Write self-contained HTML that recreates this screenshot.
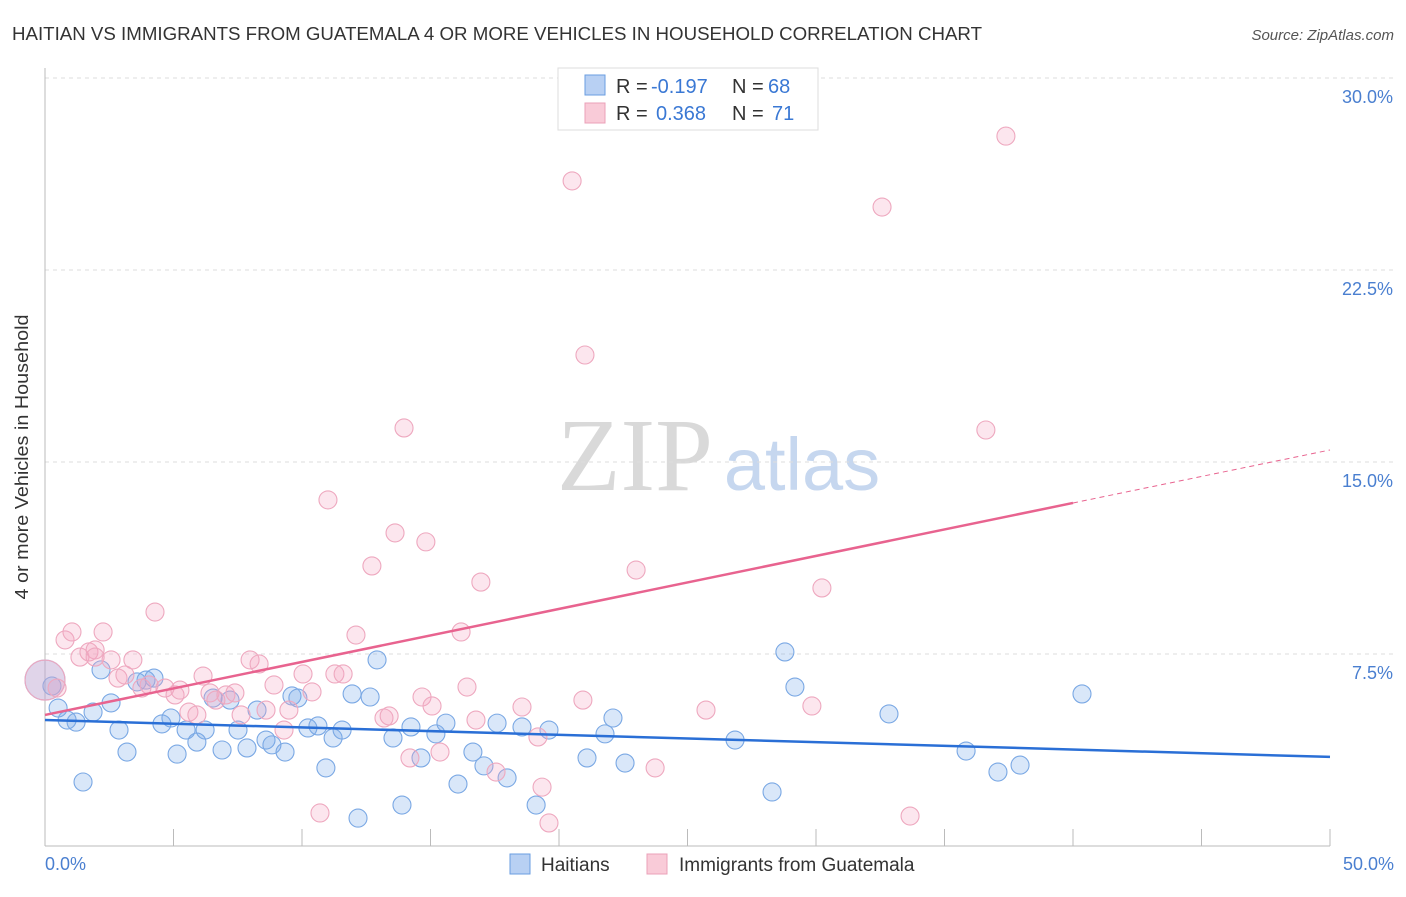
<!DOCTYPE html>
<html><head><meta charset="utf-8"><style>
body{margin:0;background:#fff;font-family:"Liberation Sans",sans-serif;}
svg text{font-family:"Liberation Sans",sans-serif;}
</style></head><body>
<svg id="chart" width="1406" height="892">
<text x="12" y="40" font-size="18" fill="#333" textLength="970" lengthAdjust="spacingAndGlyphs">HAITIAN VS IMMIGRANTS FROM GUATEMALA 4 OR MORE VEHICLES IN HOUSEHOLD CORRELATION CHART</text>
<text x="1394" y="40" font-size="15" fill="#555" font-style="italic" text-anchor="end">Source: ZipAtlas.com</text>
<text x="28" y="457" font-size="18" fill="#333" text-anchor="middle" textLength="285" lengthAdjust="spacingAndGlyphs" transform="rotate(-90 28 457)">4 or more Vehicles in Household</text>
<g><text x="635" y="490" font-size="104" fill="#d9d9d9" text-anchor="middle" style="font-family:'Liberation Serif',serif">ZIP</text><text x="802" y="490" font-size="74" fill="#c6d7ef" text-anchor="middle">atlas</text></g>
<g id="grid"></g><g id="axes"></g><g id="marks"></g>
<g>
<rect x="558" y="68" width="260" height="62" fill="#fff" stroke="#ddd"/>
<rect x="585" y="75" width="20" height="20" fill="#b8d0f3" stroke="#6a9ee0"/>
<rect x="585" y="103" width="20" height="20" fill="#f9cbd8" stroke="#eba0b8"/>
<text x="616" y="93" font-size="20" fill="#333">R =</text><text x="651" y="93" font-size="20" fill="#3a78d4">-0.197</text>
<text x="732" y="93" font-size="20" fill="#333">N =</text><text x="768" y="93" font-size="20" fill="#3a78d4">68</text>
<text x="616" y="120" font-size="20" fill="#333">R =</text><text x="656" y="120" font-size="20" fill="#3a78d4">0.368</text>
<text x="732" y="120" font-size="20" fill="#333">N =</text><text x="772" y="120" font-size="20" fill="#3a78d4">71</text>
</g>
<g>
<rect x="510" y="854" width="20" height="20" fill="#b8d0f3" stroke="#6a9ee0"/>
<text x="541" y="871" font-size="19" fill="#333">Haitians</text>
<rect x="647" y="854" width="20" height="20" fill="#f9cbd8" stroke="#eba0b8"/>
<text x="679" y="871" font-size="19" fill="#333">Immigrants from Guatemala</text>
</g>
</svg>
<script>
const yTicks=[7.5,15,22.5,30];
const yTickLabels=["7.5%","15.0%","22.5%","30.0%"];
const xTickLabels=["0.0%","50.0%"];
const blueX=[0,0.51,0.86,1.21,1.48,1.87,2.18,2.57,2.88,3.19,3.58,3.93,4.24,4.55,4.90,5.14,5.49,5.91,6.23,6.54,6.89,7.20,7.51,7.86,8.25,8.60,8.83,9.34,9.61,9.84,10.23,10.62,10.93,11.21,11.56,11.95,12.18,12.65,12.92,13.54,13.89,14.24,14.63,15.21,15.60,16.07,16.65,17.08,17.59,17.98,18.56,19.11,19.61,21.09,21.79,22.10,22.57,26.85,28.29,28.79,29.18,32.84,35.84,37.08,37.94,40.35,0.27];
const blueY=[6.48,5.39,4.92,4.84,2.50,5.23,6.88,5.59,4.53,3.67,6.41,6.48,6.56,4.77,5.00,3.59,4.53,4.06,4.53,5.78,3.75,5.70,4.53,3.83,5.31,4.14,3.95,3.67,5.86,5.78,4.61,4.69,3.05,4.22,4.53,5.94,1.09,5.82,7.27,4.22,1.60,4.65,3.44,4.38,4.80,2.42,3.67,3.13,4.80,2.66,4.65,1.60,4.53,3.44,4.38,5.00,3.24,4.14,2.11,7.58,6.21,5.16,3.71,2.89,3.16,5.94,6.25];
const pinkX=[0,0.47,0.78,1.05,1.36,1.71,1.95,2.26,2.57,2.84,3.11,3.42,3.77,4.05,4.28,4.67,5.06,5.25,5.60,5.91,6.15,6.42,6.65,7.04,7.39,7.63,7.98,8.33,8.60,8.91,9.30,9.49,10.04,10.39,11.01,11.28,11.60,12.10,12.72,13.19,13.39,13.62,13.97,14.20,14.67,14.82,15.06,15.37,16.19,16.42,16.77,16.96,17.55,18.56,19.18,19.34,19.61,20.51,20.93,21.01,23.00,23.74,25.72,29.84,30.23,32.57,33.66,36.61,37.39,10.70,1.95];
const pinkY=[6.48,6.17,8.05,8.36,7.38,7.58,7.66,8.36,7.27,6.56,6.68,7.27,6.17,6.29,9.14,6.17,5.90,6.09,5.23,5.12,6.64,5.98,5.70,5.90,5.98,5.12,7.27,7.11,5.31,6.29,4.53,5.31,6.72,6.02,13.52,6.72,6.72,8.24,10.94,5.00,5.08,12.23,16.33,3.44,5.82,11.88,5.47,3.67,8.36,6.21,4.92,10.31,2.89,5.43,4.26,2.30,0.90,25.98,5.70,19.18,10.78,3.05,5.31,5.47,10.08,24.96,1.17,16.25,27.73,1.29,7.38];
const blueTrend=[4.92,3.48];
const pinkTrendX=[0,40,50];
const pinkTrendY=[5.12,13.4,15.47];
const NS="http://www.w3.org/2000/svg";
const X0=45,X1=1330,Y0=846,YT=78;
const sx=v=>X0+(v/50)*(X1-X0);
const sy=v=>Y0-(v/30)*(Y0-YT);
function mk(tag,attrs,parent){const e=document.createElementNS(NS,tag);for(const k in attrs)e.setAttribute(k,attrs[k]);parent.appendChild(e);return e;}
const grid=document.getElementById('grid'),axes=document.getElementById('axes'),marks=document.getElementById('marks');
yTicks.forEach((t,i)=>{
  const l=mk('line',{x1:X0,x2:1394,y1:sy(t),y2:sy(t),stroke:'#ddd','stroke-dasharray':'4,4'},grid);
  
  
  const tx=mk('text',{x:1393,y:sy(t)+25,'font-size':18,fill:'#4a7fd0','text-anchor':'end'},axes);
  tx.textContent=yTickLabels[i];
  
  
});
const ya=mk('line',{x1:X0,x2:X0,y1:68,y2:Y0,stroke:'#bbb'},axes);


const xa=mk('line',{x1:X0,x2:X1,y1:Y0,y2:Y0,stroke:'#bbb'},axes);


for(let i=0;i<=10;i++){
  const t=mk('line',{x1:sx(i*5),x2:sx(i*5),y1:829,y2:Y0,stroke:'#bbb'},axes);
  
  
}
[[0,'start',45],[50,'end',1394]].forEach((d,i)=>{
  const t=mk('text',{x:d[2],y:870,'font-size':18,fill:'#4a7fd0','text-anchor':d[1]},axes);
  t.textContent=xTickLabels[i];
  
  
});
function dots(xs,ys,fill,stroke,name){
  xs.forEach((x,i)=>{
    const c=mk('circle',{cx:sx(x),cy:sy(ys[i]),r:i===0?20:9,fill:fill,stroke:stroke,'stroke-width':1.1},marks);
    
    
  });
}
dots(blueX,blueY,'rgba(120,170,235,0.28)','#7aa8e4','haitian-point');
dots(pinkX,pinkY,'rgba(245,165,195,0.28)','#eea8bf','guatemala-point');
const bl=mk('line',{x1:sx(0),y1:sy(blueTrend[0]),x2:sx(50),y2:sy(blueTrend[1]),stroke:'#2a6fd6','stroke-width':2.5},marks);


const pl=mk('line',{x1:sx(pinkTrendX[0]),y1:sy(pinkTrendY[0]),x2:sx(pinkTrendX[1]),y2:sy(pinkTrendY[1]),stroke:'#e8638f','stroke-width':2.5},marks);


const pd=mk('line',{x1:sx(pinkTrendX[1]),y1:sy(pinkTrendY[1]),x2:sx(pinkTrendX[2]),y2:sy(pinkTrendY[2]),stroke:'#e8638f','stroke-width':1,'stroke-dasharray':'5,4'},marks);


</script>
</body></html>
